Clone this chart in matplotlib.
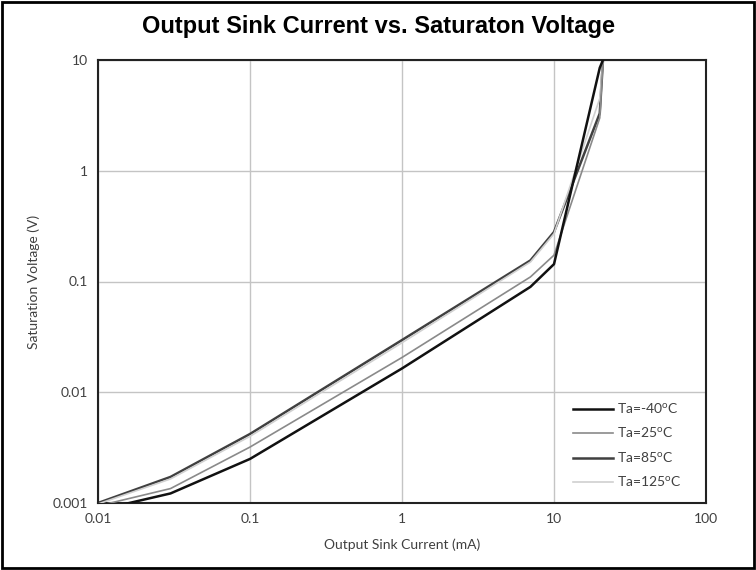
import matplotlib
matplotlib.use("Agg")
import matplotlib.pyplot as plt
import matplotlib.patches as patches

# data (current in mA, voltage in V)
i_m40 = [0.01, 0.03, 0.1, 1, 7, 10, 20, 21]
v_m40 = [0.00086, 0.00122, 0.0025, 0.0164, 0.0895, 0.1435, 8.5, 10]
i_25 = [0.01, 0.03, 0.1, 1, 7, 10, 20, 21]
v_25 = [0.00094, 0.00135, 0.0032, 0.0206, 0.110, 0.173, 3.0, 10]
i_85 = [0.01, 0.03, 0.1, 1, 7, 10, 20, 21]
v_85 = [0.001, 0.00172, 0.0042, 0.0296, 0.155, 0.28, 3.3, 10]
i_125 = [0.01, 0.03, 0.1, 1, 7, 10, 20, 21]
v_125 = [0.00098, 0.00165, 0.0040, 0.028, 0.150, 0.27, 4.5, 10]

labels = ['Ta=-40$^{\\mathregular{o}}$C', 'Ta=25$^{\\mathregular{o}}$C',
          'Ta=85$^{\\mathregular{o}}$C', 'Ta=125$^{\\mathregular{o}}$C']
xticks = [0.01, 0.1, 1, 10, 100]
xticklabels = ['0.01', '0.1', '1', '10', '100']
yticks = [0.001, 0.01, 0.1, 1, 10]
yticklabels = ['0.001', '0.01', '0.1', '1', '10']

plt.rcParams['font.family'] = ['Lato', 'DejaVu Sans']

fig = plt.figure(figsize=(7.56, 5.70), dpi=100)
ax = fig.add_axes([98 / 756, 1 - 503 / 570, 608 / 756, 443 / 570])

ax.plot(i_125, v_125, color='#d0d0d0', lw=1.2, label=labels[3], zorder=3)
ax.plot(i_85, v_85, color='#404040', lw=1.8, label=labels[2], zorder=2)
ax.plot(i_25, v_25, color='#8a8a8a', lw=1.2, label=labels[1], zorder=3)
ax.plot(i_m40, v_m40, color='#111111', lw=1.8, label=labels[0], zorder=3)

ax.set_xscale('log')
ax.set_yscale('log')
ax.set_xlim(0.01, 100)
ax.set_ylim(0.001, 10)
ax.set_xticks(xticks)
ax.set_xticklabels(xticklabels)
ax.set_yticks(yticks)
ax.set_yticklabels(yticklabels)
ax.minorticks_off()
ax.tick_params(length=0, labelsize=10, labelcolor='#404040', pad=7)
ax.grid(True, color='#c4c4c4', lw=1)
ax.set_axisbelow(True)
for s in ax.spines.values():
    s.set_color('#222222')
    s.set_linewidth(1.5)

ax.set_xlabel('Output Sink Current (mA)', fontsize=10, color='#404040', labelpad=10)
ax.set_ylabel('Saturation Voltage (V)', fontsize=10, color='#404040', labelpad=9)

h, l = ax.get_legend_handles_labels()
order = [3, 2, 1, 0]
leg = fig.legend([h[k] for k in order], [l[k] for k in order], loc='upper left',
                 bbox_to_anchor=(573 / 756, 1 - 401 / 570), frameon=False,
                 fontsize=10, borderpad=0, borderaxespad=0,
                 handlelength=2.9, handletextpad=0.3, labelspacing=0.7)
for t in leg.get_texts():
    t.set_color('#404040')

fig.text(0.5, 1 - 27 / 570, 'Output Sink Current vs. Saturaton Voltage',
         ha='center', va='center', fontsize=17, fontweight='bold',
         family='Liberation Sans')

# border round the whole picture
fig.patches.append(patches.Rectangle((0.002, 0.003), 0.995, 0.994, fill=False,
                                     lw=2, edgecolor='black',
                                     transform=fig.transFigure))

fig.savefig('out.png', dpi=100)
